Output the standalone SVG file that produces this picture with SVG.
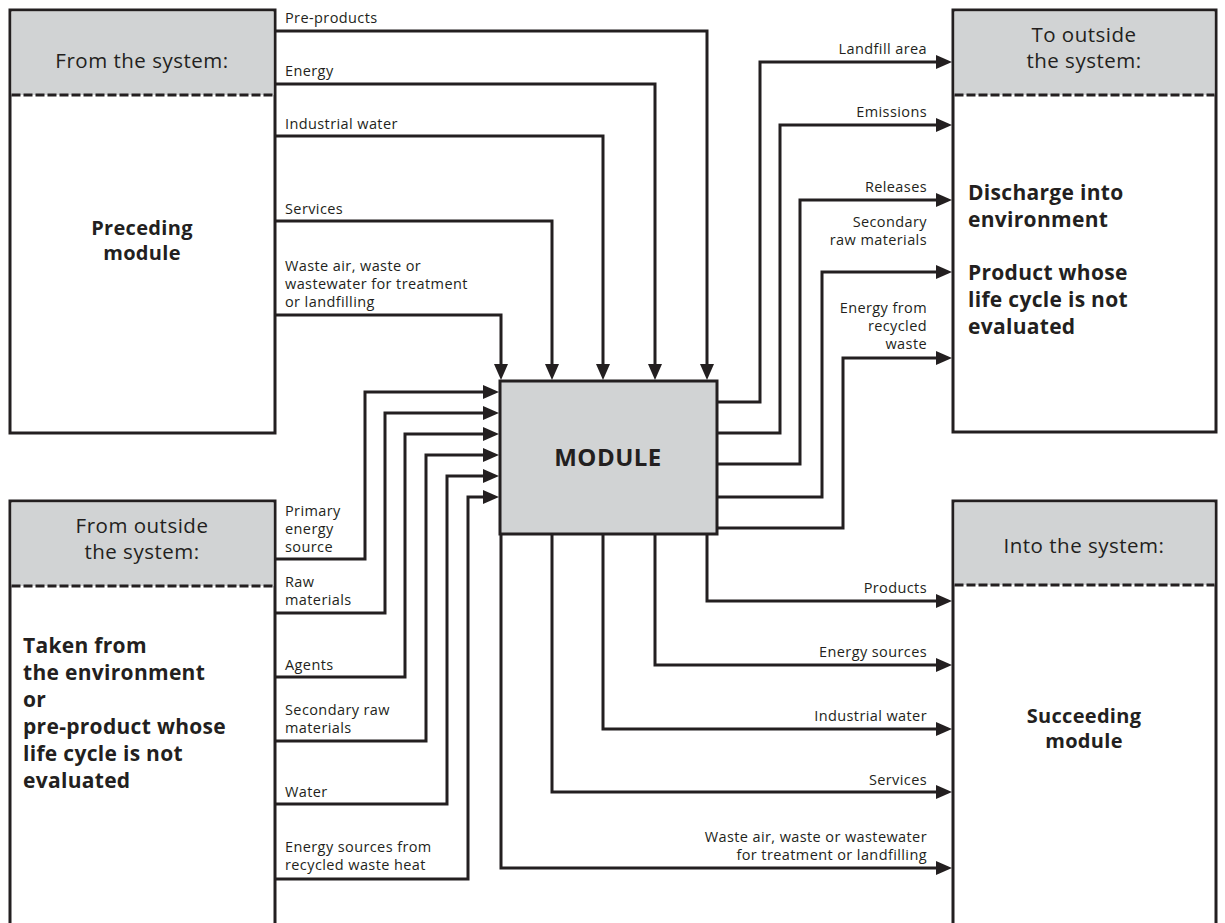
<svg xmlns="http://www.w3.org/2000/svg" width="1225" height="923" viewBox="0 0 1225 923">
  <defs>
    <style>
      .box { fill: #ffffff; stroke: #231f20; stroke-width: 3; }
      .head { fill: #d1d3d4; stroke: none; }
      .divider { stroke: #231f20; stroke-width: 3; stroke-dasharray: 9 3; fill: none; }
      .flow { fill: none; stroke: #231f20; stroke-width: 3; stroke-linejoin: miter; marker-end: url(#ah); }
      text { font-family: "Open Sans", "Liberation Sans", sans-serif; fill: #231f20; }
      .lbl { font-size: 14.5px; letter-spacing: 0.4px; }
      .lblr { font-size: 14.5px; letter-spacing: 0.4px; text-anchor: end; }
      .hdr { font-size: 20.5px; letter-spacing: 0.5px; text-anchor: middle; }
      .big { font-size: 21px; font-weight: 700; letter-spacing: 0.3px; }
      .bigc { font-size: 20px; font-weight: 700; letter-spacing: 0.3px; text-anchor: middle; }
      .mod { font-size: 24px; font-weight: 700; letter-spacing: 0.5px; text-anchor: middle; }
    </style>
    <marker id="ah" markerUnits="userSpaceOnUse" markerWidth="16" markerHeight="14" refX="8" refY="7" orient="auto">
      <path d="M0,0 L16,7 L0,14 z" fill="#231f20"/>
    </marker>
  </defs>

  <rect x="0" y="0" width="1225" height="923" fill="#ffffff"/>

  <!-- Preceding module -->
  <g id="preceding">
    <rect class="box" x="10" y="10" width="265" height="423"/>
    <rect class="head" x="11.5" y="11.5" width="262" height="83.5"/>
    <line class="divider" x1="11.5" y1="95" x2="273.5" y2="95"/>
    <text class="hdr" x="142" y="68">From the system:</text>
    <text class="bigc" x="142" y="235">Preceding</text>
    <text class="bigc" x="142" y="260">module</text>
  </g>

  <!-- From outside the system -->
  <g id="outside-in">
    <rect class="box" x="10" y="501" width="265" height="440"/>
    <rect class="head" x="11.5" y="502.5" width="262" height="83.5"/>
    <line class="divider" x1="11.5" y1="586" x2="273.5" y2="586"/>
    <text class="hdr" x="142" y="533">From outside</text>
    <text class="hdr" x="142" y="559">the system:</text>
    <text class="big" x="23" y="653">Taken from</text>
    <text class="big" x="23" y="680">the environment</text>
    <text class="big" x="23" y="707">or</text>
    <text class="big" x="23" y="734">pre-product whose</text>
    <text class="big" x="23" y="761">life cycle is not</text>
    <text class="big" x="23" y="788">evaluated</text>
  </g>

  <!-- To outside the system -->
  <g id="outside-out">
    <rect class="box" x="953" y="10" width="263" height="422"/>
    <rect class="head" x="954.5" y="11.5" width="260" height="83.5"/>
    <line class="divider" x1="954.5" y1="95" x2="1214.5" y2="95"/>
    <text class="hdr" x="1084" y="42">To outside</text>
    <text class="hdr" x="1084" y="68">the system:</text>
    <text class="big" x="968" y="200">Discharge into</text>
    <text class="big" x="968" y="227">environment</text>
    <text class="big" x="968" y="280">Product whose</text>
    <text class="big" x="968" y="307">life cycle is not</text>
    <text class="big" x="968" y="334">evaluated</text>
  </g>

  <!-- Succeeding module -->
  <g id="succeeding">
    <rect class="box" x="953" y="501" width="263" height="440"/>
    <rect class="head" x="954.5" y="502.5" width="260" height="82.5"/>
    <line class="divider" x1="954.5" y1="585" x2="1214.5" y2="585"/>
    <text class="hdr" x="1084" y="553">Into the system:</text>
    <text class="bigc" x="1084" y="723">Succeeding</text>
    <text class="bigc" x="1084" y="748">module</text>
  </g>

  <!-- Central module -->
  <g id="module">
    <rect x="500" y="381" width="217" height="153" fill="#d1d3d4" stroke="#231f20" stroke-width="3"/>
    <text class="mod" x="608" y="466">MODULE</text>
  </g>

  <!-- Flows -->
  <g id="connectors">
    <!-- inputs from the preceding module -->
    <path class="flow" d="M275,31 H707 V372"/>
    <path class="flow" d="M275,84 H655 V372"/>
    <path class="flow" d="M275,136 H603 V372"/>
    <path class="flow" d="M275,221 H552 V372"/>
    <path class="flow" d="M275,315 H501 V372"/>

    <!-- inputs from outside the system -->
    <path class="flow" d="M275,559 H365 V392 H491"/>
    <path class="flow" d="M275,613 H385 V413 H491"/>
    <path class="flow" d="M275,677 H405 V434 H491"/>
    <path class="flow" d="M275,741 H426 V455 H491"/>
    <path class="flow" d="M275,804 H447 V476 H491"/>
    <path class="flow" d="M275,879 H468 V497 H491"/>

    <!-- outputs to outside the system -->
    <path class="flow" d="M717,402 H760 V62 H944"/>
    <path class="flow" d="M717,433 H780 V125 H944"/>
    <path class="flow" d="M717,464 H800 V200 H944"/>
    <path class="flow" d="M717,497 H822 V272 H944"/>
    <path class="flow" d="M717,528 H843 V358 H944"/>

    <!-- outputs into the succeeding module -->
    <path class="flow" d="M707,534 V601 H944"/>
    <path class="flow" d="M655,534 V665 H944"/>
    <path class="flow" d="M603,534 V729 H944"/>
    <path class="flow" d="M552,534 V792 H944"/>
    <path class="flow" d="M501,534 V868 H944"/>
  </g>

  <!-- Flow labels -->
  <g id="labels">
    <text class="lbl" x="285" y="23">Pre-products</text>
    <text class="lbl" x="285" y="76">Energy</text>
    <text class="lbl" x="285" y="129">Industrial water</text>
    <text class="lbl" x="285" y="214">Services</text>
    <text class="lbl" x="285" y="271">Waste air, waste or</text>
    <text class="lbl" x="285" y="289">wastewater for treatment</text>
    <text class="lbl" x="285" y="307">or landfilling</text>

    <text class="lbl" x="285" y="516">Primary</text>
    <text class="lbl" x="285" y="534">energy</text>
    <text class="lbl" x="285" y="552">source</text>
    <text class="lbl" x="285" y="587">Raw</text>
    <text class="lbl" x="285" y="605">materials</text>
    <text class="lbl" x="285" y="670">Agents</text>
    <text class="lbl" x="285" y="715">Secondary raw</text>
    <text class="lbl" x="285" y="733">materials</text>
    <text class="lbl" x="285" y="797">Water</text>
    <text class="lbl" x="285" y="852">Energy sources from</text>
    <text class="lbl" x="285" y="870">recycled waste heat</text>

    <text class="lblr" x="927" y="54">Landfill area</text>
    <text class="lblr" x="927" y="117">Emissions</text>
    <text class="lblr" x="927" y="192">Releases</text>
    <text class="lblr" x="927" y="227">Secondary</text>
    <text class="lblr" x="927" y="245">raw materials</text>
    <text class="lblr" x="927" y="313">Energy from</text>
    <text class="lblr" x="927" y="331">recycled</text>
    <text class="lblr" x="927" y="349">waste</text>

    <text class="lblr" x="927" y="593">Products</text>
    <text class="lblr" x="927" y="657">Energy sources</text>
    <text class="lblr" x="927" y="721">Industrial water</text>
    <text class="lblr" x="927" y="785">Services</text>
    <text class="lblr" x="927" y="842">Waste air, waste or wastewater</text>
    <text class="lblr" x="927" y="860">for treatment or landfilling</text>
  </g>
</svg>
